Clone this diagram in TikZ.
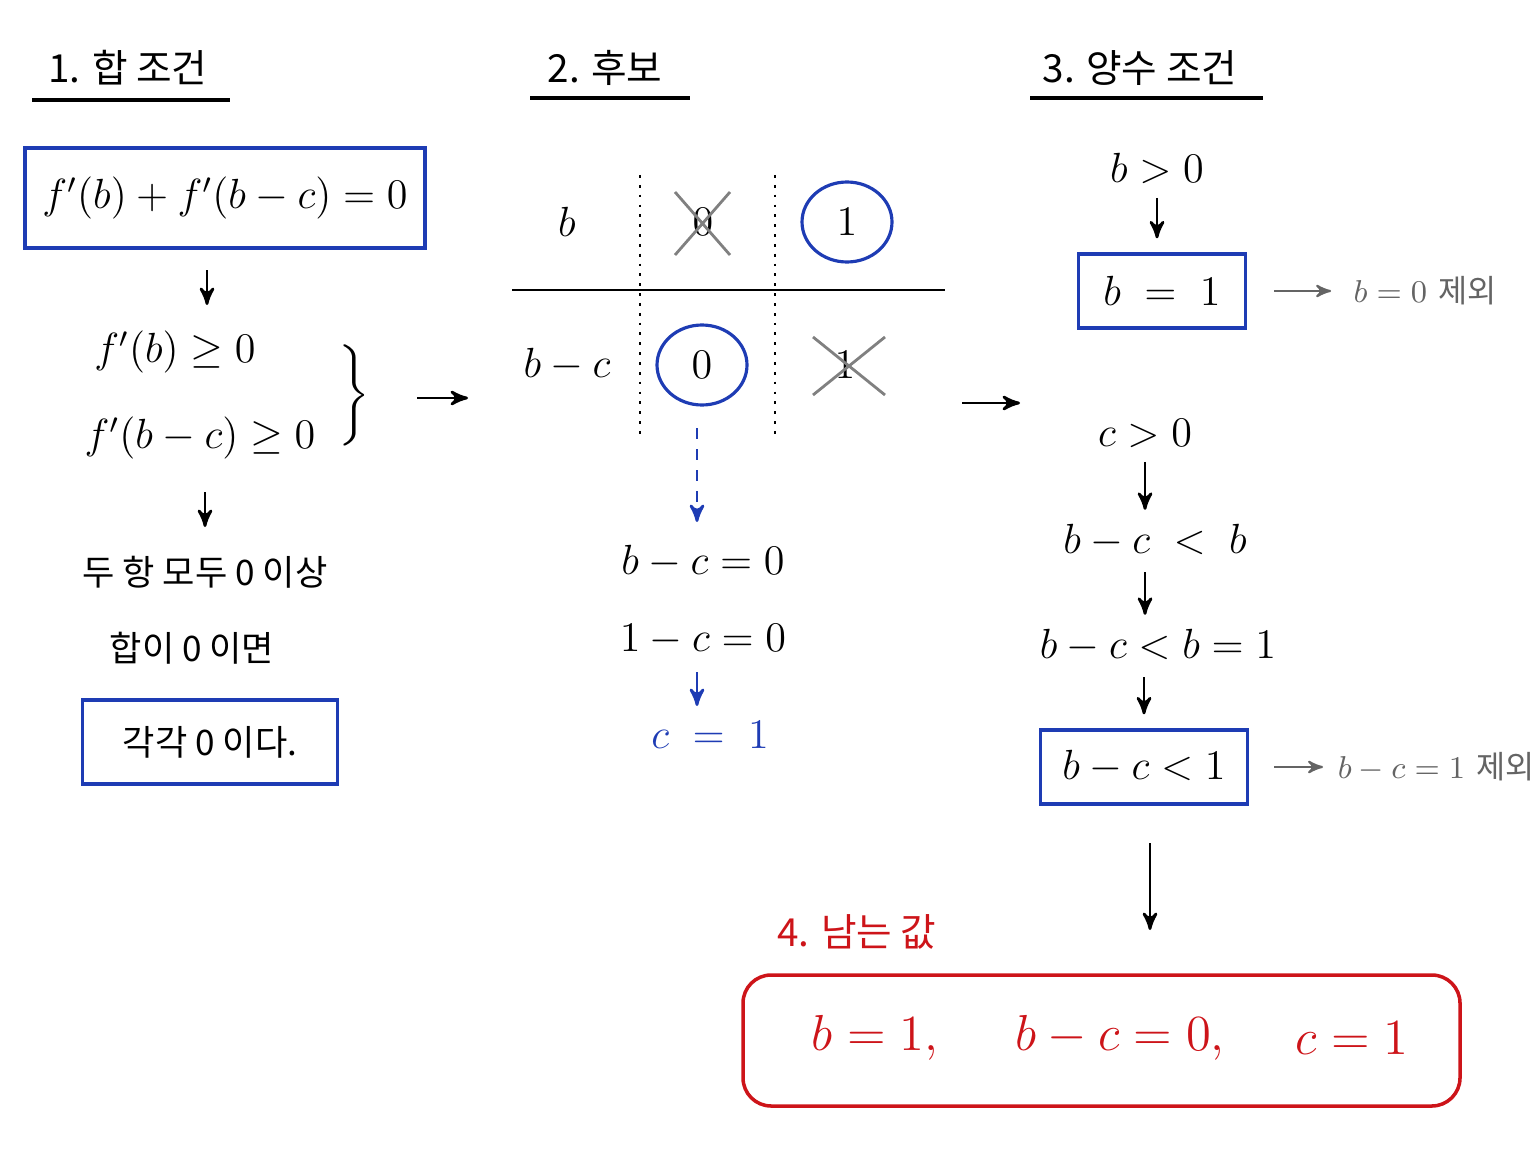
\documentclass[tikz,border=0pt]{standalone}
\usepackage{amsmath}
\usepackage{fontspec}
\newfontfamily\kr{Noto Sans CJK KR}
\usetikzlibrary{arrows,positioning,shapes.geometric}
\definecolor{penblue}{RGB}{30,60,180}
\definecolor{penred}{RGB}{205,20,25}
\definecolor{pengray}{RGB}{100,100,100}
\tikzstyle{txt} = [inner sep=1pt, font=\fontsize{11.5}{14}\selectfont]
\tikzstyle{title} = [inner sep=1pt, font=\kr\fontsize{11}{13}\selectfont]
\tikzstyle{block} = [draw=penblue, line width=0.9pt, rectangle, inner sep=0pt]
\tikzstyle{ring} = [draw=penblue, line width=0.9pt, ellipse, minimum width=0.9cm, minimum height=0.8cm]
\tikzstyle{note} = [inner sep=1pt, text=pengray, font=\fontsize{9}{11}\selectfont]
\tikzstyle{flow} = [->, line width=0.8pt, >=stealth']

\begin{document}
\begin{tikzpicture}
          \useasboundingbox (0,0) rectangle (15.36,-11.52);
          % Titles
          \node [title] (t1) at (1.28,-0.68) {1. 합 조건};
          \node [title] (t2) at (6.05,-0.68) {2. 후보};
          \node [title] (t3) at (11.40,-0.68) {3. 양수 조건};
          \draw [line width=0.9pt] (0.32,-1.0) -- (2.30,-1.0);
          \draw [line width=0.9pt] (5.30,-0.98) -- (6.90,-0.98);
          \draw [line width=0.9pt] (10.30,-0.98) -- (12.63,-0.98);

          % Column 1
          \node [block, minimum width=4.0cm, minimum height=1.0cm] (sum) at (2.25,-1.98) {};
          \node [txt] at (sum) {$f'(b)+f'(b-c)=0$};
          \node [txt] (fb) at (1.75,-3.52) {$f'(b)\geq 0$};
          \node [txt] (fbc) at (2.00,-4.38) {$f'(b-c)\geq 0$};
          \node [txt] (brace) at (3.52,-3.95) {$\left.\vphantom{\rule{0pt}{0.6cm}}\right\}$};
          \node [txt, font=\kr\fontsize{10}{12}\selectfont] (both) at (2.05,-5.72) {두 항 모두 0 이상};
          \node [txt, font=\kr\fontsize{10}{12}\selectfont] (zero) at (1.92,-6.48) {합이 0 이면};
          \node [block, minimum width=2.55cm, minimum height=0.84cm] (each) at (2.10,-7.42) {};
          \node [txt, font=\kr\fontsize{10}{12}\selectfont] at (each) {각각 0 이다.};
          \coordinate (a1) at (2.07,-2.70); \coordinate (a2) at (2.07,-3.05);
          \coordinate (a3) at (2.05,-4.92); \coordinate (a4) at (2.05,-5.27);
          \draw [flow] (a1) -- (a2);
          \draw [flow] (a3) -- (a4);
          \coordinate (r1) at (4.17,-3.98); \coordinate (r2) at (4.68,-3.98);
          \draw [flow] (r1) -- (r2);

          % Column 2: table
          \node [txt] (rb) at (5.67,-2.22) {$b$};
          \node [txt] (rbc) at (5.67,-3.65) {$b-c$};
          \draw [line width=0.8pt] (5.12,-2.90) -- (9.45,-2.90);
          \draw [dotted, line width=0.8pt] (6.40,-1.75) -- (6.40,-4.38);
          \draw [dotted, line width=0.8pt] (7.75,-1.75) -- (7.75,-4.38);
          \node [txt] (b0) at (7.03,-2.22) {$0$};
          \draw [gray, line width=0.8pt] (6.75,-1.92) -- (7.30,-2.55) (6.75,-2.55) -- (7.30,-1.92);
          \node [ring] (b1) at (8.47,-2.22) {}; \node [txt] at (b1) {$1$};
          \node [ring] (c0) at (7.02,-3.65) {}; \node [txt] at (c0) {$0$};
          \node [txt] (c1) at (8.45,-3.65) {$1$};
          \draw [gray, line width=0.8pt] (8.13,-3.37) -- (8.85,-3.95) (8.13,-3.95) -- (8.85,-3.37);
          \coordinate (d1) at (6.97,-4.28); \coordinate (d2) at (6.97,-5.22);
          \draw [flow, dashed, penblue] (d1) -- (d2);
          \node [txt] (e1) at (7.03,-5.62) {$b-c=0$};
          \node [txt] (e2) at (7.03,-6.40) {$1-c=0$};
          \node [txt, text=penblue] (e3) at (7.10,-7.35) {$c\;=\;1$};
          \coordinate (d3) at (6.97,-6.72); \coordinate (d4) at (6.97,-7.06);
          \draw [flow, penblue] (d3) -- (d4);
          \coordinate (r3) at (9.62,-4.03); \coordinate (r4) at (10.20,-4.03);
          \draw [flow] (r3) -- (r4);

          % Column 3
          \node [txt] (bpos) at (11.57,-1.68) {$b>0$};
          \node [block, minimum width=1.67cm, minimum height=0.74cm] (bone) at (11.62,-2.91) {};
          \node [txt] at (bone) {$b\;=\;1$};
          \node [note] (n1) at (14.25,-2.91) {$b=0$ {\kr 제외}};
          \node [txt] (cpos) at (11.45,-4.33) {$c>0$};
          \node [txt] (s1) at (11.55,-5.41) {$b-c\;<\;b$};
          \node [txt] (s2) at (11.58,-6.46) {$b-c<b=1$};
          \node [block, minimum width=2.07cm, minimum height=0.74cm] (bcone) at (11.44,-7.67) {};
          \node [txt] at (bcone) {$b-c<1$};
          \node [note] (n2) at (14.36,-7.67) {$b-c=1$ {\kr 제외}};
          \draw [flow, shorten <=3pt, shorten >=4pt] (bpos.south) -- (bpos.south |- bone.north);
          \draw [flow, shorten <=3pt, shorten >=3pt] (cpos.south) -- (cpos.south |- s1.north);
          \draw [flow, shorten <=3pt, shorten >=3pt] (cpos.south |- s1.south) -- (cpos.south |- s2.north);
          \draw [flow, shorten <=3pt, shorten >=4pt] (s2.south -| bcone) -- (bcone.north);
          \draw [flow, pengray, line width=0.6pt] (bone.east) ++(0.27,0) -- ++(0.57,0);
          \draw [flow, pengray, line width=0.6pt, shorten >=3pt] (bcone.east) ++(0.25,0) -- (n2.west);

          % Result
          \node [title, text=penred] (t4) at (8.57,-9.32) {4. 남는 값};
          \draw [penred, line width=1pt, rounded corners=8pt] (7.43,-9.75) rectangle (14.60,-11.06);
          \node [txt, text=penred, font=\fontsize{15}{18}\selectfont] (v1) at (8.75,-10.38) {$b=1,$};
          \node [txt, text=penred, font=\fontsize{15}{18}\selectfont] (v2) at (11.20,-10.38) {$b-c=0,$};
          \node [txt, text=penred, font=\fontsize{15}{18}\selectfont] (v3) at (13.52,-10.38) {$c=1$};
          \coordinate (f1) at (11.50,-8.43); \coordinate (f2) at (11.50,-9.30);
          \draw [flow] (f1) -- (f2);
      \end{tikzpicture}
\end{document}
